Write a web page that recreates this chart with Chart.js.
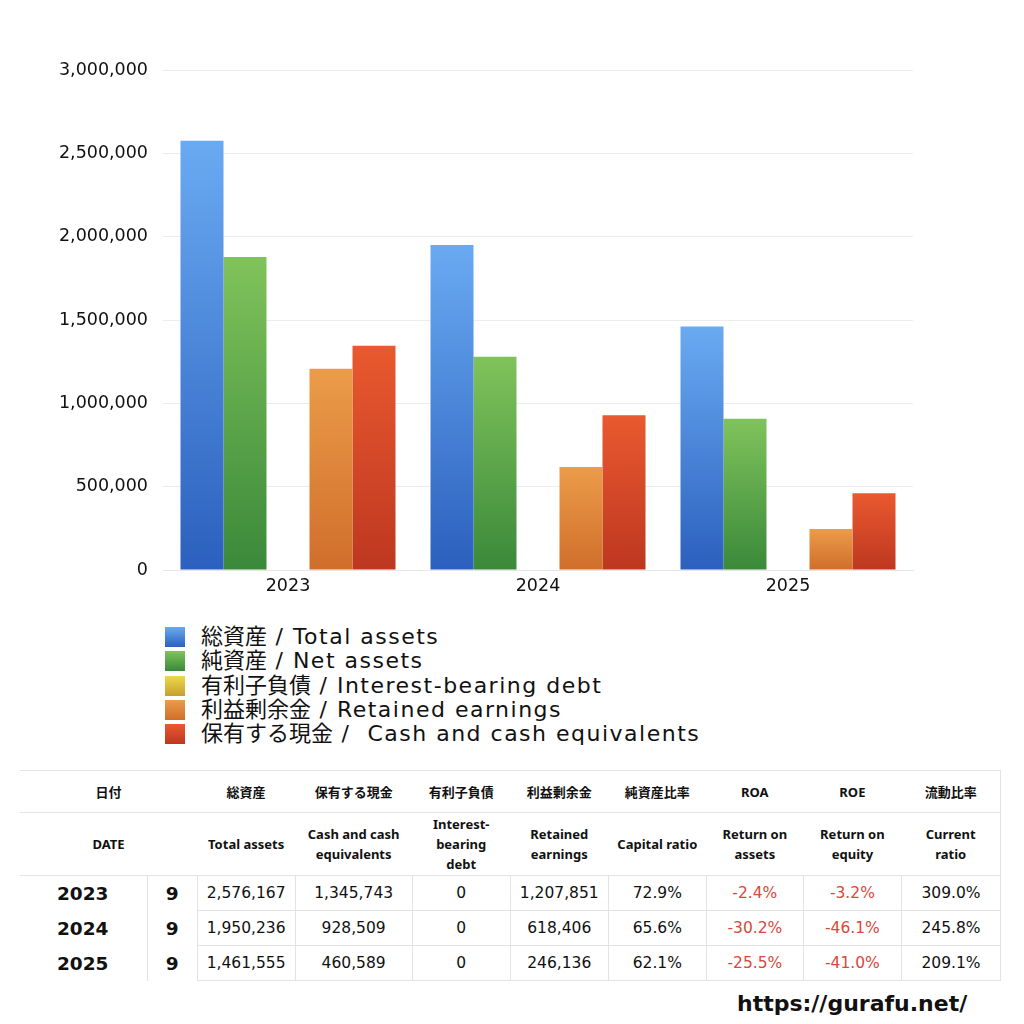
<!DOCTYPE html>
<html>
<head>
<meta charset="utf-8">
<script src="https://cdn.jsdelivr.net/npm/chart.js@4.4.1/dist/chart.umd.min.js"></script>
<style>
  html, body { margin:0; padding:0; background:#fff; }
  body { width:1024px; height:1024px; position:relative; overflow:hidden; font-family:"DejaVu Sans","Noto Sans CJK JP",sans-serif; }
  #chartBox { position:absolute; left:0; top:0; width:1024px; height:610px; }
  #legend { position:absolute; left:165px; top:625px; }
  .lg-item { display:flex; align-items:center; height:24.3px; }
  .lg-box { width:20px; height:20px; margin-right:16px; }
  .lg-text { font-size:22px; color:#111; line-height:24px; white-space:pre; font-family:"DejaVu Sans","Noto Sans CJK JP",sans-serif; }
  .lg-en { letter-spacing:1.5px; }
  table { position:absolute; left:20px; top:770px; width:981px; border-collapse:collapse; table-layout:fixed; color:#111; }
  td { text-align:center; padding:0; }
  tr.h1 td { height:41px; font-size:13px; font-weight:bold; border-top:1px solid #e3e3e3; border-bottom:1px solid #e3e3e3; font-family:"Noto Sans","Noto Sans CJK JP",sans-serif; }
  tr.h2 td { height:62px; font-size:13px; font-weight:bold; line-height:20px; border-bottom:1px solid #e3e3e3; font-family:"Noto Sans","Noto Sans CJK JP",sans-serif; }
  tr.d td { height:34px; font-size:15.5px; border-left:1px solid #e3e3e3; border-bottom:1px solid #e3e3e3; font-family:"DejaVu Sans","Noto Sans CJK JP",sans-serif; }
  tr.d td.yr { font-size:18.5px; font-weight:bold; border-left:none; border-bottom:none; text-align:left; padding-left:37px; }
  tr.d td.mo { font-size:18.5px; font-weight:bold; border-bottom:none; text-align:center; }
  tr.d td.neg { color:#d9483b; }
  .lastcol { border-right:1px solid #e3e3e3; }
  #wm { position:absolute; left:737px; top:991px; font-family:"DejaVu Sans",sans-serif; font-size:22px; font-weight:bold; color:#111; }
</style>
</head>
<body>
<div id="chartBox"><canvas id="c"></canvas></div>
<div id="legend"></div>
<table id="tbl"></table>
<div id="wm">https://gurafu.net/</div>
<script>
// ---- data ----
const categories = ['2023', '2024', '2025'];
const totalAssets = [2576167, 1950236, 1461555];
const netAssets = [1878000, 1279000, 907600];
const interestBearingDebt = [0, 0, 0];
const retainedEarnings = [1207851, 618406, 246136];
const cashEquivalents = [1345743, 928509, 460589];
const seriesLabels = ['総資産 / Total assets', '純資産 / Net assets', '有利子負債 / Interest-bearing debt', '利益剰余金 / Retained earnings', '保有する現金 /  Cash and cash equivalents'];
const yTicks = [0, 500000, 1000000, 1500000, 2000000, 2500000, 3000000];

// table data
const months = ['9', '9', '9'];
const capitalRatio = ['72.9%', '65.6%', '62.1%'];
const roa = ['-2.4%', '-30.2%', '-25.5%'];
const roe = ['-3.2%', '-46.1%', '-41.0%'];
const currentRatio = ['309.0%', '245.8%', '209.1%'];
const headJa = ['総資産', '保有する現金', '有利子負債', '利益剰余金', '純資産比率', 'ROA', 'ROE', '流動比率'];
const headEn = ['Total assets', 'Cash and cash<br>equivalents', 'Interest-<br>bearing<br>debt', 'Retained<br>earnings', 'Capital ratio', 'Return on<br>assets', 'Return on<br>equity', 'Current<br>ratio'];

// ---- styles ----
const gradStops = [
  ['#6aaaf2', '#2b60be'],
  ['#80c35b', '#3a893a'],
  ['#ecd94a', '#c89f2e'],
  ['#eb9c49', '#d06e2b'],
  ['#e9592f', '#bd3720']
];

function barGradient(ctx, i) {
  const chart = ctx.chart;
  const area = chart.chartArea;
  if (!area) return gradStops[i][1];
  const ys = chart.scales.y;
  const v = ctx.raw || 0;
  const top = ys.getPixelForValue(v);
  const bottom = ys.getPixelForValue(0);
  if (bottom - top < 1) return gradStops[i][1];
  const g = chart.ctx.createLinearGradient(0, top, 0, bottom);
  g.addColorStop(0, gradStops[i][0]);
  g.addColorStop(1, gradStops[i][1]);
  return g;
}

const seriesData = [totalAssets, netAssets, interestBearingDebt, retainedEarnings, cashEquivalents];

const datasets = seriesData.map((d, i) => ({
  label: seriesLabels[i],
  data: d,
  backgroundColor: (ctx) => barGradient(ctx, i),
  borderWidth: 0,
  categoryPercentage: 0.86,
  barPercentage: 1.0
}));

const axisFont = '"DejaVu Sans", "Liberation Sans", sans-serif';

new Chart(document.getElementById('c'), {
  type: 'bar',
  data: { labels: categories, datasets },
  options: {
    responsive: true,
    maintainAspectRatio: false,
    animation: false,
    layout: { padding: { left: 0, top: 70, right: 111, bottom: 0 } },
    plugins: { legend: { display: false }, tooltip: { enabled: false } },
    scales: {
      x: {
        grid: { display: false, drawTicks: false },
        border: { display: true, color: '#e6e6e6' },
        ticks: { color: '#111', font: { family: axisFont, size: 17.5 }, padding: 6 },
        afterFit: (s) => { s.height = 40; }
      },
      y: {
        min: 0, max: 3000000,
        afterBuildTicks: (s) => { s.ticks = yTicks.map(v => ({ value: v })); },
        grid: { color: '#ececec', drawTicks: false },
        border: { display: false },
        ticks: {
          color: '#111',
          font: { family: axisFont, size: 17.5 },
          padding: 15,
          callback: (v) => Number(v).toLocaleString('en-US')
        },
        afterFit: (s) => { s.width = 163; }
      }
    }
  }
});

// ---- legend (HTML, built from series) ----
const lg = document.getElementById('legend');
seriesLabels.forEach((t, i) => {
  const it = document.createElement('div');
  it.className = 'lg-item';
  it.innerHTML = '<div class="lg-box" style="background:linear-gradient(' + gradStops[i][0] + ',' + gradStops[i][1] + ')"></div><div class="lg-text"><span class="lg-ja"></span><span class="lg-en"></span></div>';
  const cut = t.indexOf(' /');
  it.querySelector('.lg-ja').textContent = t.slice(0, cut);
  it.querySelector('.lg-en').textContent = t.slice(cut);
  lg.appendChild(it);
});

// ---- table ----
const fmt = (n) => n.toLocaleString('en-US');
let html = '<colgroup><col style="width:127px"><col style="width:50px"><col style="width:98px"><col style="width:117px"><col style="width:98px"><col style="width:98px"><col style="width:98px"><col style="width:97px"><col style="width:98px"><col style="width:99px"></colgroup>';
html += '<tr class="h1"><td colspan="2">日付</td>' + headJa.map((h, i) => '<td' + (i === headJa.length - 1 ? ' class="lastcol"' : '') + '>' + h + '</td>').join('') + '</tr>';
html += '<tr class="h2"><td colspan="2">DATE</td>' + headEn.map((h, i) => '<td' + (i === headEn.length - 1 ? ' class="lastcol"' : '') + '>' + h + '</td>').join('') + '</tr>';
categories.forEach((y, r) => {
  const cells = [
    [fmt(totalAssets[r]), ''],
    [fmt(cashEquivalents[r]), ''],
    [fmt(interestBearingDebt[r]), ''],
    [fmt(retainedEarnings[r]), ''],
    [capitalRatio[r], ''],
    [roa[r], roa[r].startsWith('-') ? 'neg' : ''],
    [roe[r], roe[r].startsWith('-') ? 'neg' : ''],
    [currentRatio[r], 'lastcol']
  ];
  html += '<tr class="d"><td class="yr">' + y + '</td><td class="mo">' + months[r] + '</td>' +
    cells.map(c => '<td class="' + c[1] + '">' + c[0] + '</td>').join('') + '</tr>';
});
document.getElementById('tbl').innerHTML = html;
</script>
</body>
</html>
